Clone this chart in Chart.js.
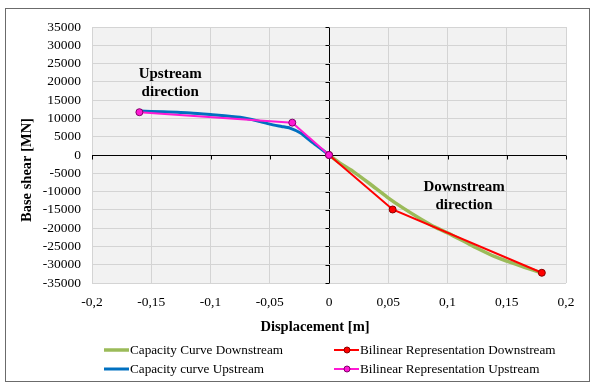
<!DOCTYPE html>
<html>
<head>
<meta charset="utf-8">
<script src="https://cdn.jsdelivr.net/npm/chart.js@4/dist/chart.umd.min.js"></script>
<style>
  html, body { margin: 0; padding: 0; background: #fff; }
  #wrap { position: relative; width: 593px; height: 383px; }
</style>
</head>
<body>
<div id="wrap"><canvas id="capChart" width="593" height="383"></canvas></div>
<script>
// displacement [m] / base shear [MN]
const downCapX = [0, 0.010, 0.020, 0.035, 0.049, 0.063, 0.077, 0.090, 0.100, 0.115, 0.125, 0.140, 0.150, 0.165, 0.1796];
const downCapY = [0, -2400, -4400, -8000, -11500, -14600, -17400, -19800, -21300, -23800, -25500, -27800, -29000, -30700, -32300];

const upCapX = [-0.160, -0.140, -0.117, -0.100, -0.075, -0.060, -0.050, -0.040, -0.033, -0.024, -0.0135, -0.006, 0];
const upCapY = [12000, 11800, 11500, 11050, 10300, 9300, 8450, 7800, 7350, 6000, 3300, 1500, 0];

const downBiX = [0, 0.0537, 0.1796];
const downBiY = [0, -14900, -32200];

const upBiX = [-0.160, -0.031, 0];
const upBiY = [11700, 8850, 0];

const xTicks = [-0.2, -0.15, -0.1, -0.05, 0, 0.05, 0.1, 0.15, 0.2];
const yTicks = [-35000, -30000, -25000, -20000, -15000, -10000, -5000, 0, 5000, 10000, 15000, 20000, 25000, 30000, 35000];

const labels = ["Capacity Curve Downstream", "Bilinear Representation Downstream", "Capacity curve Upstream", "Bilinear Representation Upstream"];

const toPts = (xs, ys) => xs.map((x, i) => ({ x: x, y: ys[i] }));
const serif = "'Liberation Serif', 'Times New Roman', serif";

// fond gris de la zone de tracé + cadre extérieur
const backdrop = {
  id: "backdrop",
  beforeDraw(chart) {
    const { ctx, chartArea: a } = chart;
    ctx.save();
    ctx.fillStyle = "#f2f2f2";
    ctx.fillRect(a.left, a.top, a.right - a.left, a.bottom - a.top);
    ctx.strokeStyle = "#6b6b6b";
    ctx.lineWidth = 1;
    ctx.strokeRect(5.5, 8.5, 584, 373);
    ctx.restore();
  }
};

// petites graduations sur les axes qui passent par zéro
const zeroTicks = {
  id: "zeroTicks",
  beforeDatasetsDraw(chart) {
    const { ctx, scales: { x, y } } = chart;
    const x0 = Math.round(x.getPixelForValue(0)) + 0.5;
    const y0 = Math.round(y.getPixelForValue(0)) + 0.5;
    ctx.save();
    ctx.strokeStyle = "#000";
    ctx.lineWidth = 1;
    ctx.beginPath();
    xTicks.forEach(v => {
      const px = Math.round(x.getPixelForValue(v)) + 0.5;
      ctx.moveTo(px, y0);
      ctx.lineTo(px, y0 + 4);
    });
    yTicks.forEach(v => {
      const py = Math.round(y.getPixelForValue(v)) + 0.5;
      ctx.moveTo(x0 - 4, py);
      ctx.lineTo(x0, py);
    });
    ctx.stroke();
    ctx.restore();
  }
};

// textes "Upstream / Downstream direction" et titres des axes
const notes = {
  id: "notes",
  afterDatasetsDraw(chart) {
    const { ctx, scales: { x, y } } = chart;
    ctx.save();
    ctx.font = "bold 15px " + serif;
    ctx.fillStyle = "#000";
    ctx.textAlign = "center";
    ctx.textBaseline = "middle";
    ctx.fillText("Upstream", x.getPixelForValue(-0.134), y.getPixelForValue(22000));
    ctx.fillText("direction", x.getPixelForValue(-0.134), y.getPixelForValue(17100));
    ctx.fillText("Downstream", x.getPixelForValue(0.114), y.getPixelForValue(-8800));
    ctx.fillText("direction", x.getPixelForValue(0.114), y.getPixelForValue(-13800));

    ctx.font = "bold 14.5px " + serif;
    ctx.fillText("Displacement [m]", 315, 327);
    ctx.translate(27, 170);
    ctx.rotate(-Math.PI / 2);
    ctx.fillText("Base shear [MN]", 0, 0);
    ctx.restore();
  }
};

// légende sur deux colonnes, comme dans Excel
const legend2 = {
  id: "legend2",
  afterDraw(chart) {
    const { ctx } = chart;
    const cols = [104, 334];
    const rows = [350, 369];
    ctx.save();
    ctx.font = "13.2px " + serif;
    ctx.textBaseline = "middle";
    chart.data.datasets.forEach((ds, i) => {
      const lx = cols[i % 2];
      const ly = rows[Math.floor(i / 2)];
      ctx.strokeStyle = ds.borderColor;
      ctx.lineWidth = ds.borderWidth;
      ctx.beginPath();
      ctx.moveTo(lx, ly);
      ctx.lineTo(lx + 25, ly);
      ctx.stroke();
      if (ds.pointRadius > 0) {
        ctx.beginPath();
        ctx.arc(lx + 13, ly, 3, 0, Math.PI * 2);
        ctx.fillStyle = ds.pointBackgroundColor;
        ctx.fill();
        ctx.lineWidth = 1;
        ctx.strokeStyle = ds.pointBorderColor;
        ctx.stroke();
      }
      ctx.fillStyle = "#000";
      ctx.fillText(ds.label, lx + 26, ly + 1);
    });
    ctx.restore();
  }
};

const gridColor = ctx => (ctx.tick && ctx.tick.value === 0 ? "#000000" : "#d4d4d4");

new Chart(document.getElementById("capChart"), {
  type: "scatter",
  data: {
    datasets: [
      {
        label: labels[0],
        data: toPts(downCapX, downCapY),
        showLine: true,
        borderColor: "#9bbb59",
        borderWidth: 3.5,
        pointRadius: 0,
        tension: 0.2,
        order: 4
      },
      {
        label: labels[1],
        data: toPts(downBiX, downBiY),
        showLine: true,
        borderColor: "#ff0000",
        borderWidth: 2,
        pointRadius: 3.5,
        pointBackgroundColor: "#ff0000",
        pointBorderColor: "#8b0000",
        pointBorderWidth: 1,
        order: 2
      },
      {
        label: labels[2],
        data: toPts(upCapX, upCapY),
        showLine: true,
        borderColor: "#0070c0",
        borderWidth: 3,
        pointRadius: 0,
        tension: 0.2,
        order: 3
      },
      {
        label: labels[3],
        data: toPts(upBiX, upBiY),
        showLine: true,
        borderColor: "#ff19d4",
        borderWidth: 2,
        pointRadius: 3.5,
        pointBackgroundColor: "#ff19d4",
        pointBorderColor: "#80006a",
        pointBorderWidth: 1,
        order: 1
      }
    ]
  },
  options: {
    responsive: false,
    animation: false,
    layout: { padding: { left: 19, top: 27, right: 27, bottom: 52 } },
    plugins: { legend: { display: false }, tooltip: { enabled: false } },
    scales: {
      x: {
        type: "linear",
        min: -0.2,
        max: 0.2,
        afterFit: s => { s.height = 48; },
        afterBuildTicks: s => { s.ticks = xTicks.map(v => ({ value: v })); },
        border: { display: false },
        grid: { color: gridColor, drawTicks: false, lineWidth: 1 },
        ticks: {
          autoSkip: false,
          maxRotation: 0,
          padding: 11,
          color: "#000",
          font: { family: serif, size: 13.5 },
          callback: v => String(Math.round(v * 100) / 100).replace(".", ",")
        }
      },
      y: {
        type: "linear",
        min: -35000,
        max: 35000,
        afterFit: s => { s.width = 73; },
        afterBuildTicks: s => { s.ticks = yTicks.map(v => ({ value: v })); },
        border: { display: false },
        grid: { color: gridColor, drawTicks: false, lineWidth: 1 },
        ticks: {
          autoSkip: false,
          padding: 11,
          color: "#000",
          font: { family: serif, size: 13.5 },
          callback: v => String(v)
        }
      }
    }
  },
  plugins: [backdrop, zeroTicks, notes, legend2]
});
</script>
</body>
</html>
